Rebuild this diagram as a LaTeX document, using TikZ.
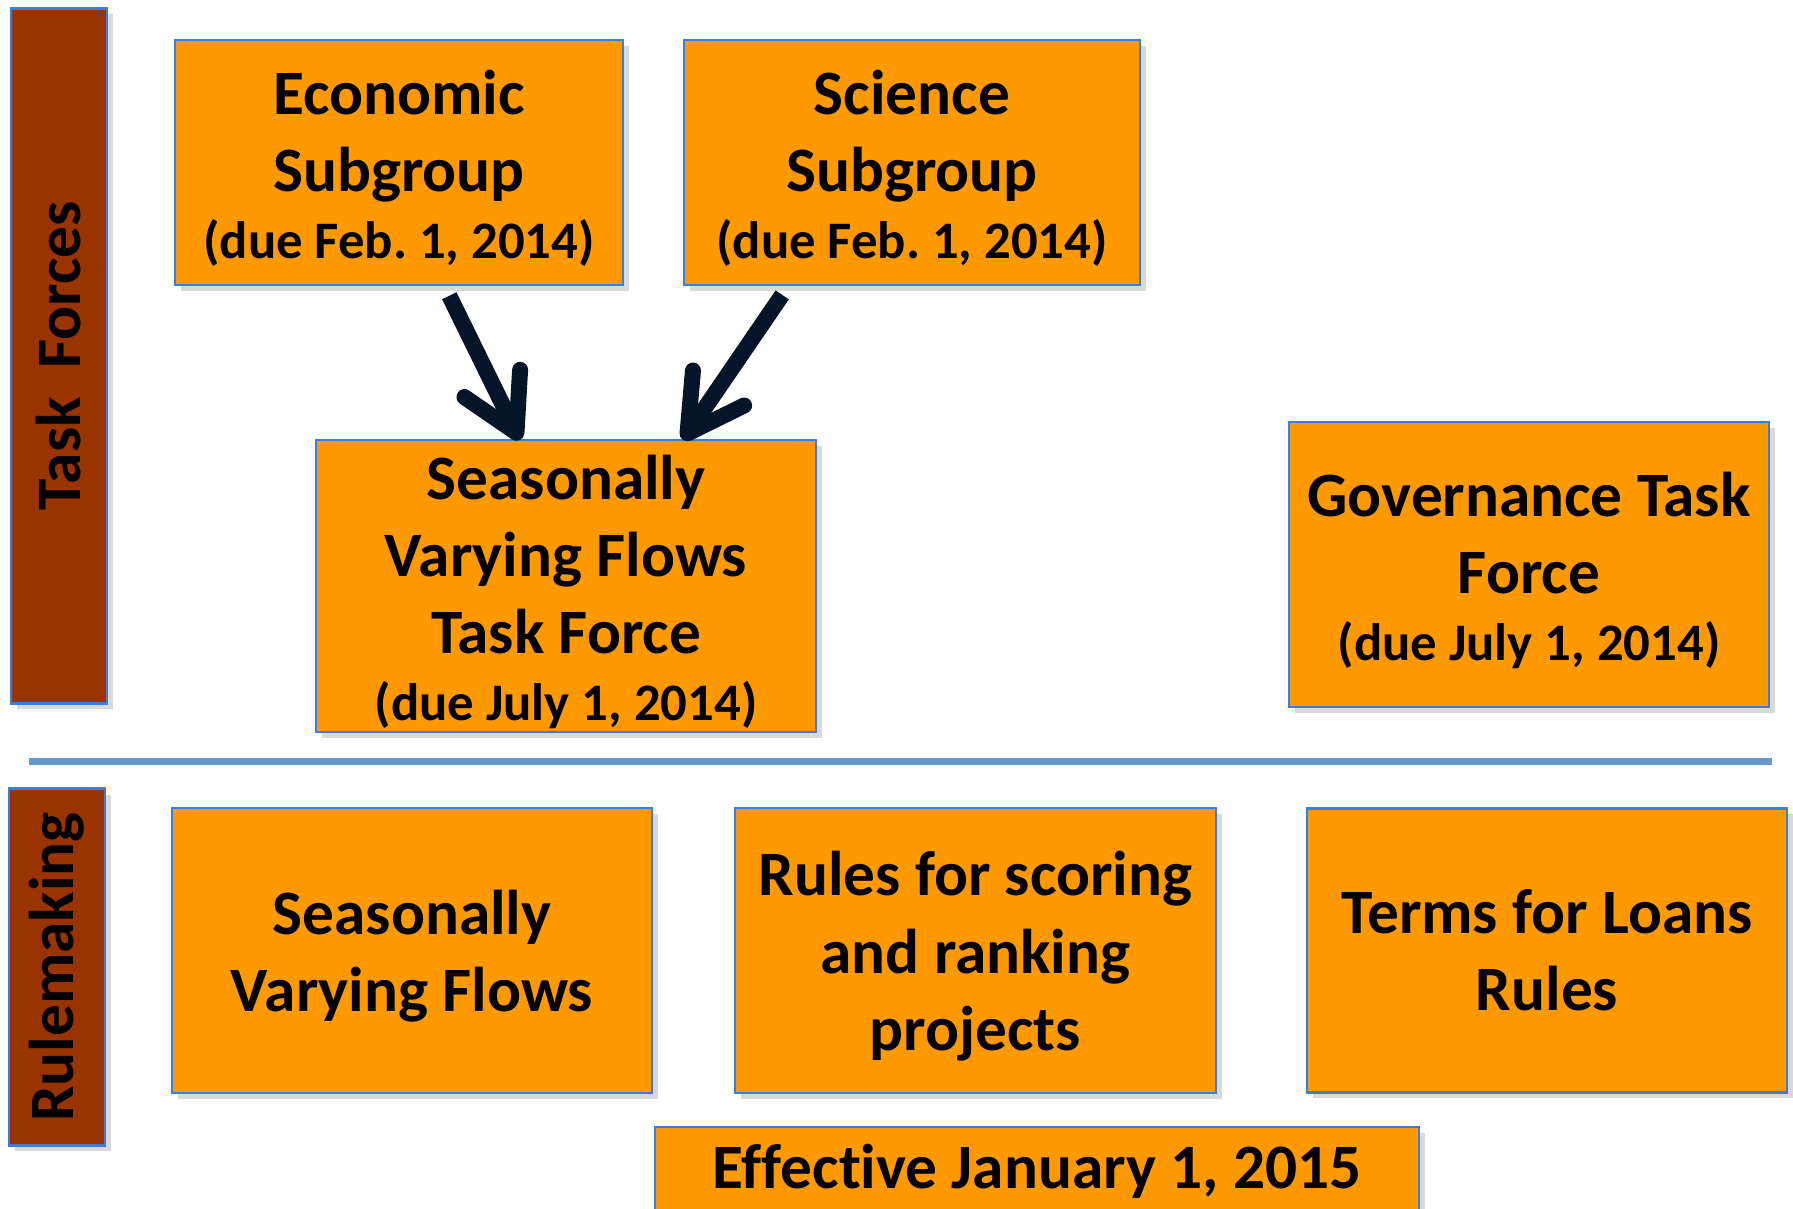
\documentclass[tikz,border=0pt]{standalone}
\usepackage{fontspec}
\setmainfont[Ligatures={NoCommon}]{Carlito}
\frenchspacing
\usetikzlibrary{arrows.meta,positioning,shadows}
\definecolor{boxorange}{HTML}{FF9900}
\definecolor{boxblue}{HTML}{3C7DD9}
\definecolor{barbrown}{HTML}{993300}
\definecolor{rulerblue}{HTML}{6699CC}
\definecolor{arrownavy}{HTML}{061429}
\newcommand{\duedate}[1]{{\fontsize{15}{18}\selectfont #1}}
\newcommand{\topstrut}{\rule{0pt}{16pt}}

\begin{document}
\begin{tikzpicture}[x=0.1mm,y=-0.1mm,>={Straight Barb[length=5.5mm,width=6.2mm,round]}]
    \tikzset{block/.style={
      draw=boxblue,
      fill=boxorange,
      line width=0.7pt,
      rectangle,
      align=center,
      inner sep=0pt,
      outer sep=0pt,
      font=\fontsize{18}{22}\selectfont\bfseries,
      drop shadow={opacity=0.3,shadow xshift=0.6mm,shadow yshift=-0.6mm}
    },
    sidebar/.style={block, fill=barbrown, rotate=90, minimum height=9.6mm},
    bigarrow/.style={draw=arrownavy, line width=1.6mm, ->, shorten <=1.2mm}};

    \useasboundingbox (0,0) rectangle (1793,1209);
    \clip (0,0) rectangle (1793,1209);

    % task forces
    \node [sidebar, minimum width=69.5mm] (taskbar) at (59,356) {Task\ \ Forces};
    \node [block, anchor=north west, minimum width=44.8mm, minimum height=24.5mm] (econ) at (175,40)
      {\topstrut Economic\\Subgroup\\[-3pt]\duedate{(due Feb. 1, 2014)}};
    \node [block, right=6.1mm of econ, minimum width=45.6mm, minimum height=24.5mm] (science)
      {\topstrut Science\\Subgroup\\[-3pt]\duedate{(due Feb. 1, 2014)}};
    \node [block, anchor=north west, minimum width=50mm, minimum height=29.2mm] (svftf) at (316,440)
      {\topstrut Seasonally\\Varying Flows\\Task Force\\[-3pt]\duedate{(due July 1, 2014)}};
    \node [block, anchor=north west, minimum width=48mm, minimum height=28.5mm] (govtf) at (1289,422)
      {\topstrut Governance Task\\Force\\[-3pt]\duedate{(due July 1, 2014)}};

    \path[bigarrow] ([xshift=4.5mm]econ.south) -- ([xshift=-4.6mm]svftf.north);
    \path[bigarrow] ([xshift=-12.3mm]science.south) -- ([xshift=11.7mm]svftf.north);

    % divider
    \coordinate (divleft) at (29,762);
    \coordinate (divright) at (1772,762);
    \draw[rulerblue, line width=0.7mm] (divleft) -- (divright);

    % rulemaking
    \node [sidebar, minimum width=35.7mm] (rulebar) at (57,967) {Rulemaking};
    \node [block, anchor=north west, minimum width=48mm, minimum height=28.5mm] (svf) at (172,808)
      {\topstrut Seasonally\\Varying Flows};
    \node [block, right=8.3mm of svf, minimum width=48.1mm, minimum height=28.5mm] (scoring)
      {\topstrut Rules for scoring\\and ranking\\projects};
    \node [block, right=9.1mm of scoring, minimum width=48mm, minimum height=28.4mm] (loans)
      {Terms for Loans\\Rules};
    \node [block, anchor=north west, minimum width=76.4mm, minimum height=8.8mm] (effective) at (655,1127)
      {Effective January 1, 2015};

  \end{tikzpicture}
\end{document}
